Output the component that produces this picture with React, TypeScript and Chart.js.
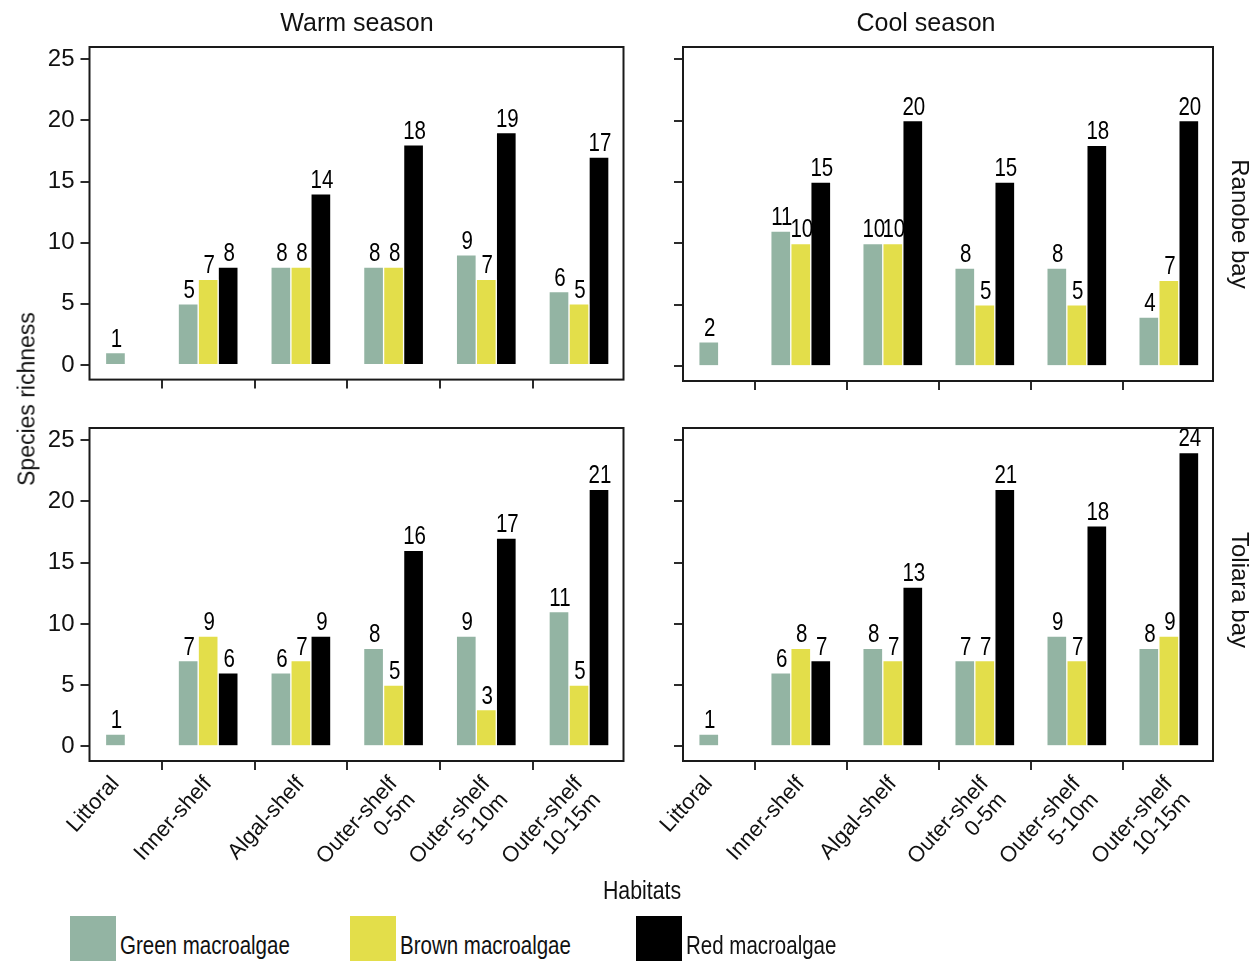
import React, { useEffect, useRef } from "react";
import { Chart, registerables } from "chart.js";

Chart.register(...registerables);

// ---------- data ----------
const HABITATS: (string | string[])[] = [
  "Littoral",
  "Inner-shelf",
  "Algal-shelf",
  ["Outer-shelf", "0-5m"],
  ["Outer-shelf", "5-10m"],
  ["Outer-shelf", "10-15m"],
];
const SERIES_NAMES = ["Green macroalgae", "Brown macroalgae", "Red macroalgae"];
const SERIES_COLORS = ["#93b4a3", "#e3de4a", "#000000"];
const Y_TICKS = [0, 5, 10, 15, 20, 25];

const RANOBE_WARM_GREEN = [1, 5, 8, 8, 9, 6];
const RANOBE_WARM_BROWN = [null, 7, 8, 8, 7, 5];
const RANOBE_WARM_RED = [null, 8, 14, 18, 19, 17];

const RANOBE_COOL_GREEN = [2, 11, 10, 8, 8, 4];
const RANOBE_COOL_BROWN = [null, 10, 10, 5, 5, 7];
const RANOBE_COOL_RED = [null, 15, 20, 15, 18, 20];

const TOLIARA_WARM_GREEN = [1, 7, 6, 8, 9, 11];
const TOLIARA_WARM_BROWN = [null, 9, 7, 5, 3, 5];
const TOLIARA_WARM_RED = [null, 6, 9, 16, 17, 21];

const TOLIARA_COOL_GREEN = [1, 6, 8, 7, 9, 8];
const TOLIARA_COOL_BROWN = [null, 8, 7, 7, 7, 9];
const TOLIARA_COOL_RED = [null, 7, 13, 21, 18, 24];

// ---------- styling ----------
const SANS = '"Liberation Sans", Arial, Helvetica, sans-serif';
const NARROW_SCALE = 0.82;
const AXIS_COLOR = "#2b2b2b";

const boxPlugin = {
  id: "panelBox",
  afterDraw(chart: any) {
    const { ctx, chartArea: a } = chart;
    ctx.save();
    ctx.strokeStyle = "#1a1a1a";
    ctx.lineWidth = 2;
    ctx.strokeRect(a.left, a.top, a.right - a.left, a.bottom - a.top);
    ctx.restore();
  },
};

const valueLabelPlugin = {
  id: "valueLabels",
  afterDatasetsDraw(chart: any) {
    const { ctx } = chart;
    chart.data.datasets.forEach((ds: any, di: number) => {
      const meta = chart.getDatasetMeta(di);
      meta.data.forEach((el: any, i: number) => {
        const v = ds.data[i].y;
        if (v === null || v === undefined) return;
        ctx.save();
        ctx.font = `25px ${SANS}`;
        ctx.fillStyle = "#000";
        ctx.textAlign = "center";
        ctx.textBaseline = "alphabetic";
        ctx.translate(el.x + 1, el.y - 6);
        ctx.scale(NARROW_SCALE, 1);
        ctx.fillText(String(v), 0, 0);
        ctx.restore();
      });
    });
  },
};

type PanelProps = {
  green: (number | null)[];
  brown: (number | null)[];
  red: (number | null)[];
  left: number;
  top: number;
  width: number;
  height: number;
  padTop: number;
  padRight: number;
  yWidth: number;
  xHeight: number;
  showY: boolean;
  showX: boolean;
};

function Panel(p: PanelProps) {
  const ref = useRef<HTMLCanvasElement>(null);
  useEffect(() => {
    const seriesValues = [p.green, p.brown, p.red];
    const chart = new Chart(ref.current as HTMLCanvasElement, {
      type: "bar",
      data: {
        datasets: seriesValues.map((vals, si) => ({
          label: SERIES_NAMES[si],
          data: vals.map((v, i) => ({ x: i, y: v })),
          backgroundColor: SERIES_COLORS[si],
          borderColor: "#ffffff",
          borderWidth: 1,
          borderSkipped: "start",
          skipNull: true,
          barThickness: 20,
        })),
      } as any,
      options: {
        responsive: false,
        animation: false,
        events: [],
        layout: { padding: { top: p.padTop, right: p.padRight, left: 0, bottom: 0 } },
        plugins: {
          legend: { display: false },
          tooltip: { enabled: false },
          title: { display: false },
        },
        scales: {
          x: {
            type: "linear",
            min: -0.28,
            max: 5.48,
            offset: false,
            afterBuildTicks: (scale: any) => {
              scale.ticks = HABITATS.map((_, i) => ({ value: i }));
            },
            afterFit: (scale: any) => {
              scale.height = p.xHeight;
            },
            border: { display: false },
            grid: {
              display: true,
              drawOnChartArea: false,
              drawTicks: true,
              tickLength: 9,
              color: AXIS_COLOR,
              lineWidth: 2,
            },
            ticks: {
              display: p.showX,
              autoSkip: false,
              minRotation: 48,
              maxRotation: 48,
              padding: 2,
              color: "#111",
              font: { family: SANS, size: 22, lineHeight: 1.1 },
              callback: (_v: any, index: number) => HABITATS[index] as any,
            },
          },
          y: {
            type: "linear",
            min: -1.2,
            max: 26,
            afterBuildTicks: (scale: any) => {
              scale.ticks = Y_TICKS.map((v) => ({ value: v }));
            },
            afterFit: (scale: any) => {
              scale.width = p.yWidth;
            },
            border: { display: false },
            grid: {
              display: true,
              drawOnChartArea: false,
              drawTicks: true,
              tickLength: 9,
              color: AXIS_COLOR,
              lineWidth: 2,
            },
            ticks: {
              display: p.showY,
              padding: 6,
              color: "#111",
              font: { family: SANS, size: 24 },
            },
          },
        },
      } as any,
      plugins: [boxPlugin, valueLabelPlugin],
    });
    return () => chart.destroy();
  }, []);
  return (
    <canvas
      ref={ref}
      width={p.width}
      height={p.height}
      style={{ position: "absolute", left: p.left, top: p.top, width: p.width, height: p.height }}
    />
  );
}

export default function App() {
  const text: React.CSSProperties = { position: "absolute", whiteSpace: "nowrap", color: "#111" };
  const narrow = (origin: string): React.CSSProperties => ({
    display: "inline-block",
    transform: `scaleX(${NARROW_SCALE})`,
    transformOrigin: origin,
  });
  return (
    <div
      style={{
        position: "absolute",
        left: 0,
        top: 0,
        width: 1253,
        height: 961,
        background: "#fff",
        overflow: "hidden",
        fontFamily: SANS,
      }}
    >
      <Panel
        green={RANOBE_WARM_GREEN}
        brown={RANOBE_WARM_BROWN}
        red={RANOBE_WARM_RED}
        left={0}
        top={0}
        width={640}
        height={400}
        padTop={47}
        padRight={16.5}
        yWidth={89.5}
        xHeight={19}
        showY={true}
        showX={false}
      />
      <Panel
        green={RANOBE_COOL_GREEN}
        brown={RANOBE_COOL_BROWN}
        red={RANOBE_COOL_RED}
        left={640}
        top={0}
        width={613}
        height={400}
        padTop={47}
        padRight={40}
        yWidth={43}
        xHeight={19}
        showY={false}
        showX={false}
      />
      <Panel
        green={TOLIARA_WARM_GREEN}
        brown={TOLIARA_WARM_BROWN}
        red={TOLIARA_WARM_RED}
        left={0}
        top={400}
        width={640}
        height={500}
        padTop={28}
        padRight={16.5}
        yWidth={89.5}
        xHeight={139}
        showY={true}
        showX={true}
      />
      <Panel
        green={TOLIARA_COOL_GREEN}
        brown={TOLIARA_COOL_BROWN}
        red={TOLIARA_COOL_RED}
        left={640}
        top={400}
        width={613}
        height={500}
        padTop={28}
        padRight={40}
        yWidth={43}
        xHeight={139}
        showY={false}
        showX={true}
      />

      {/* column titles */}
      <div style={{ ...text, left: 357, top: 22, transform: "translate(-50%, -50%)", fontSize: 25 }}>Warm season</div>
      <div style={{ ...text, left: 926, top: 22, transform: "translate(-50%, -50%)", fontSize: 25 }}>Cool season</div>

      {/* row labels */}
      <div style={{ ...text, left: 1240, top: 224, transform: "translate(-50%, -50%) rotate(90deg)", fontSize: 24 }}>Ranobe bay</div>
      <div style={{ ...text, left: 1240, top: 590, transform: "translate(-50%, -50%) rotate(90deg)", fontSize: 24 }}>Toliara bay</div>

      {/* y axis title */}
      <div style={{ ...text, left: 27, top: 399, transform: "translate(-50%, -50%) rotate(-90deg)", fontSize: 23 }}>Species richness</div>

      {/* x axis title */}
      <div style={{ ...text, left: 642, top: 890, transform: "translate(-50%, -50%)", fontSize: 26 }}>
        <span style={narrow("center")}>Habitats</span>
      </div>

      {/* legend */}
      {SERIES_NAMES.map((name, i) => {
        const xs = [70, 350, 636][i];
        return (
          <React.Fragment key={name}>
            <div style={{ position: "absolute", left: xs, top: 916, width: 46, height: 46, background: SERIES_COLORS[i] }} />
            <div style={{ ...text, left: xs + 50, top: 945, transform: "translateY(-50%)", fontSize: 25 }}>
              <span style={narrow("left center")}>{name}</span>
            </div>
          </React.Fragment>
        );
      })}
    </div>
  );
}
